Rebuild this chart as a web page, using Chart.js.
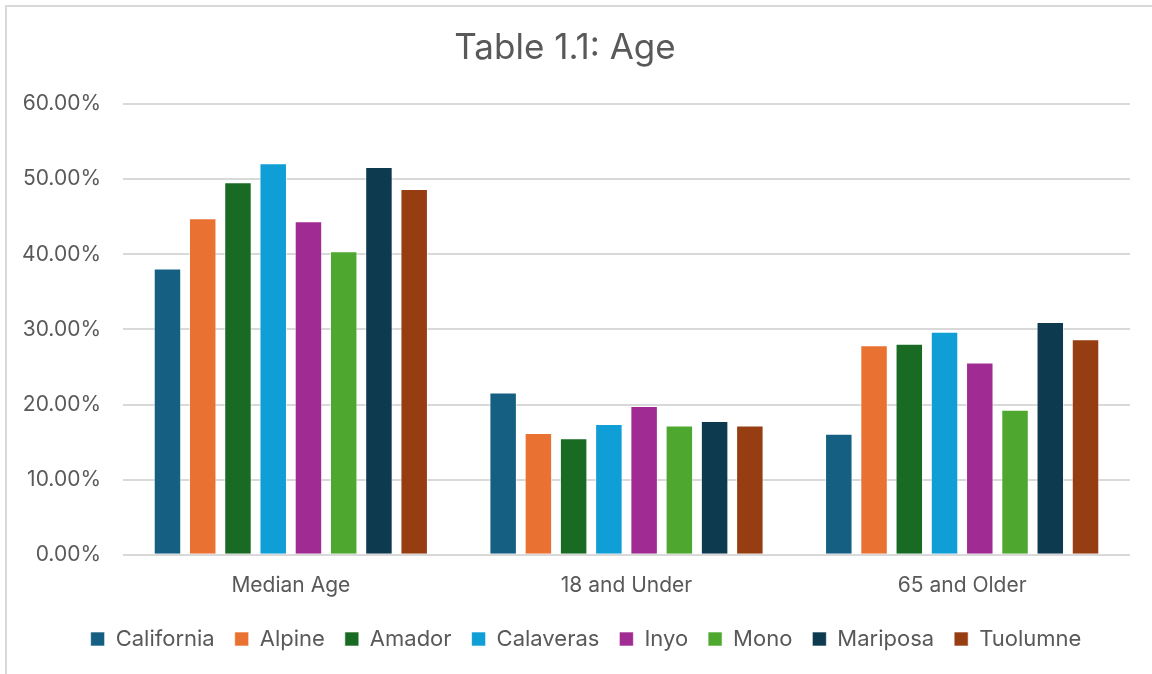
<!DOCTYPE html>
<html>
<head>
<meta charset="utf-8">
<title>Table 1.1: Age</title>
<script src="https://cdn.jsdelivr.net/npm/chart.js@4.4.1/dist/chart.umd.min.js"></script>
<style>
	html, body { margin: 0; padding: 0; background: #ffffff; overflow: hidden; }
	#wrap { position: relative; width: 1152px; height: 674px; }
	#frame {
		position: absolute; left: 5px; top: 5px; width: 1200px; height: 700px;
		border-top: 2px solid #d9d9d9; border-left: 2px solid #d9d9d9;
		box-sizing: border-box; pointer-events: none;
	}
	canvas { position: absolute; left: 0; top: 0; }
</style>
</head>
<body>
<div id="wrap">
	<canvas id="age-chart" width="1152" height="674"></canvas>
	<div id="frame"></div>
</div>
<script>
	// Categories and series (percent values).
	var CATEGORIES = ['Median Age', '18 and Under', '65 and Older'];
	var COUNTIES   = ['California', 'Alpine', 'Amador', 'Calaveras', 'Inyo', 'Mono', 'Mariposa', 'Tuolumne'];

	var CALIFORNIA = [38.1, 21.6, 16.1];
	var ALPINE     = [44.8, 16.2, 27.9];
	var AMADOR     = [49.6, 15.5, 28.1];
	var CALAVERAS  = [52.1, 17.4, 29.7];
	var INYO       = [44.4, 19.8, 25.6];
	var MONO       = [40.4, 17.2, 19.3];
	var MARIPOSA   = [51.6, 17.8, 31.0];
	var TUOLUMNE   = [48.7, 17.2, 28.7];

	var Y_TICKS = [0, 10, 20, 30, 40, 50, 60];

	var SERIES = [CALIFORNIA, ALPINE, AMADOR, CALAVERAS, INYO, MONO, MARIPOSA, TUOLUMNE];

	var COLORS = ['#156082', '#E97132', '#196B24', '#0F9ED5', '#A02B93', '#4EA72E', '#0E3A50', '#963E11'];

	var FONT_FAMILY = "Inter, 'Noto Sans', 'Open Sans', sans-serif";
	var TEXT_COLOR  = '#595959';

	// Legend sits a little right of the canvas centre in the original.
	var LEGEND_SHIFT = 21;

	var datasets = SERIES.map(function (values, i) {
		return {
			label:           COUNTIES[i],
			data:            values,
			backgroundColor: COLORS[i],
			borderColor:     'rgba(255,255,255,0.6)',
			borderWidth:     1,
			barPercentage:   0.78,
			categoryPercentage: 0.84,
		};
	});

	new Chart(document.getElementById('age-chart'), {
		type: 'bar',
		data: {
			labels:   CATEGORIES,
			datasets: datasets,
		},
		options: {
			responsive: false,
			animation:  false,
			layout: {
				padding: { left: 0, right: 22, top: 0, bottom: 14 },
			},
			scales: {
				x: {
					grid:   { display: false },
					border: { display: false },
					ticks: {
						color:   TEXT_COLOR,
						padding: 10,
						font:    { family: FONT_FAMILY, size: 21 },
					},
				},
				y: {
					min: 0,
					max: 60,
					afterBuildTicks: function (scale) {
						scale.ticks = Y_TICKS.map(function (v) { return { value: v }; });
					},
					afterFit: function (scale) {
						scale.width = 123;
					},
					grid: {
						color:     '#d9d9d9',
						lineWidth: 2,
						drawTicks: false,
					},
					border: { display: false },
					ticks: {
						color:   TEXT_COLOR,
						padding: 22,
						font:    { family: FONT_FAMILY, size: 21 },
						callback: function (value) {
							return value.toFixed(2) + '%';
						},
					},
				},
			},
			plugins: {
				title: {
					display: true,
					text:    'Table 1.1: Age',
					color:   TEXT_COLOR,
					font:    { family: FONT_FAMILY, size: 35, weight: 'normal' },
					padding: { top: 27, bottom: 35 },
				},
				legend: {
					position: 'bottom',
					labels: {
						color:     TEXT_COLOR,
						boxWidth:  14,
						boxHeight: 14,
						padding:   20,
						font:      { family: FONT_FAMILY, size: 22 },
					},
				},
				tooltip: { enabled: false },
			},
		},
		plugins: [{
			id: 'legendShift',
			beforeDraw: function (chart) {
				if (chart.legend && !chart.legend._shifted) {
					chart.legend.left  += LEGEND_SHIFT;
					chart.legend.right += LEGEND_SHIFT;
					chart.legend._shifted = true;
				}
			},
		}],
	});
</script>
</body>
</html>
